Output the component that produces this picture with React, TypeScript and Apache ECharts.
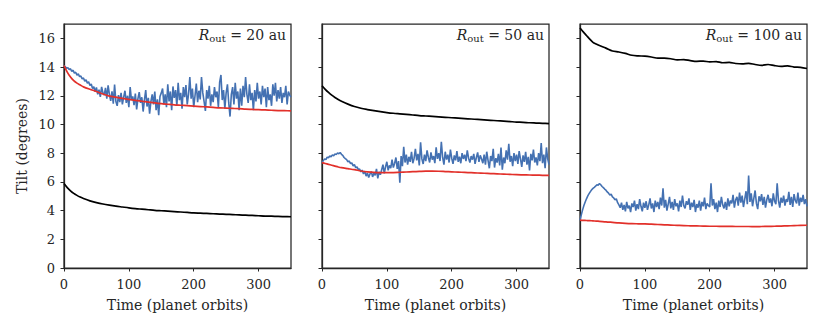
import React, { useEffect, useRef } from "react";
import * as echarts from "echarts";

// ---------- data ----------
const TIME_STEP = 2; // orbits between samples of the noisy (blue) series

const BLUE_20 = [
  14.1, 14.02, 13.92, 13.96, 13.82, 13.88, 13.7, 13.78, 13.58, 13.64, 13.44, 13.52, 13.34, 13.38, 13.18, 13.24, 13.02, 13.12, 12.88, 12.98, 12.72,
  12.82, 12.5, 12.64, 12.28, 12.58, 12.1, 12.42, 11.92, 12.62, 12.2,
  12.05, 12.55, 11.8, 12.72, 12.1, 11.65, 12.3, 11.45, 12.78, 11.6, 11.3, 12.05, 11.55, 12.2, 11.4,
  11.9, 12.35, 11.5, 12.0, 11.2, 12.6, 11.7, 11.95, 11.35, 12.15, 11.05, 11.8, 12.25, 11.5, 11.9, 10.9, 11.7, 12.4, 11.25, 11.85, 10.75, 11.6, 12.1, 11.4, 12.3, 11.0, 11.75, 10.65, 11.95, 12.2,
  12.5, 11.4, 12.1, 11.2, 12.8, 11.6, 12.3, 11.0, 12.65, 11.85,
  12.4, 11.3, 12.9, 11.7, 12.2, 11.1, 12.6, 11.9, 12.75, 11.4,
  12.1, 13.3, 11.8, 12.5, 11.2, 12.0, 12.85, 11.55, 12.35, 11.75,
  13.3, 12.2, 11.6, 10.95, 12.4, 11.8, 12.7, 11.3, 12.1, 11.55,
  12.6, 11.9, 12.3, 11.2, 12.95, 13.45, 11.7, 12.4, 11.1, 12.2,
  12.8, 11.5, 10.55, 12.1, 12.6, 11.4, 12.9, 11.8, 12.3, 11.0,
  12.5, 11.3, 12.7, 11.9, 13.3, 12.1, 11.5, 12.8, 11.7, 12.2,
  11.0, 12.4, 11.6, 12.9, 11.8, 12.3, 11.4, 12.7, 11.9, 12.5,
  11.2, 12.6, 11.7, 12.1, 11.3, 12.8, 12.0, 12.9, 11.6, 12.4,
  11.8, 12.6, 11.5, 12.2, 11.9, 12.7, 11.4, 12.3, 12.05, 11.9,
];

const BLUE_50 = [
  7.35, 7.48, 7.6, 7.55, 7.72, 7.68, 7.8, 7.75, 7.88, 7.82, 7.95, 7.9, 8.02, 7.96, 8.05, 7.92, 7.85, 7.7, 7.62, 7.55, 7.4,
  7.45, 7.28, 7.32, 7.12, 7.2, 6.98, 7.05, 6.85, 6.9, 6.7, 6.82, 6.55, 6.75, 6.4, 6.62, 6.3, 6.55, 6.72, 6.35, 6.6, 6.45, 6.9, 6.25, 6.7, 6.5,
  6.85, 7.2, 6.6, 7.05, 7.4, 6.8, 7.15, 6.95, 7.55, 7.0, 7.3, 7.7, 6.9, 7.45, 5.95, 7.8, 7.1, 8.45, 7.35, 7.9,
  7.2, 7.75, 7.4, 8.1, 7.3, 7.65, 8.3, 7.5, 7.95, 7.15,
  8.75, 7.6, 7.25, 7.9, 7.45, 8.2, 7.7, 7.35, 8.05, 7.55,
  7.8, 7.3, 8.4, 7.6, 8.0, 7.45, 8.8, 7.7, 7.2, 8.1,
  7.55, 7.9, 7.35, 8.25, 7.65, 7.25, 7.85, 7.5, 8.15, 7.4,
  7.75, 7.3, 8.0, 7.6, 7.9, 7.45, 8.2, 7.65, 7.35, 7.8,
  7.55, 7.95, 7.25, 7.7, 8.05, 7.4, 7.85, 7.6, 7.3, 7.9,
  7.2, 8.1, 7.5, 6.95, 7.8, 7.45, 8.3, 7.0, 7.65, 7.35,
  7.95, 7.15, 8.4, 6.85, 7.7, 7.3, 8.2, 7.55, 8.65, 7.4,
  7.8, 7.1, 8.0, 7.45, 7.9, 7.25, 8.15, 7.6, 7.05, 7.85,
  7.4, 8.1, 7.2, 7.75, 6.8, 7.95, 7.5, 8.25, 7.35, 7.7,
  7.15, 8.0, 7.45, 8.7, 7.3, 7.9, 6.95, 8.4, 7.6, 7.2,
];

const BLUE_100 = [
  3.33, 3.7, 4.05, 4.35, 4.6, 4.82, 5.02, 5.18, 5.32, 5.45, 5.55, 5.62, 5.7, 5.8, 5.76, 5.88,
  5.8, 5.68, 5.6, 5.5, 5.42, 5.3, 5.22, 5.08, 5.15, 4.95, 4.88, 4.75, 4.82, 4.55, 4.4,
  4.2, 4.55, 4.05, 4.4, 3.95, 4.6, 4.15, 4.35, 3.9, 4.5,
  4.25, 4.7, 4.0, 4.45, 4.1, 4.8, 4.3, 3.95, 4.55, 4.2,
  4.65, 4.05, 4.4, 4.85, 4.15, 4.5, 3.9, 4.7, 4.25, 4.6,
  4.1, 4.9, 4.35, 5.55, 4.2, 4.75, 4.0, 4.45, 4.95, 4.15,
  4.6, 4.05, 4.8, 4.3, 4.5, 3.95, 4.7, 4.25, 5.05, 4.35,
  4.15, 4.65, 4.4, 4.85, 4.05, 4.55, 4.25, 4.75, 3.9, 4.45,
  4.2, 4.7, 4.0, 4.6, 4.3, 4.9, 4.1, 4.5, 4.35, 4.25,
  5.9, 4.35, 4.8, 4.1, 4.55, 3.9, 4.7, 4.25, 4.95, 4.4,
  4.15, 4.6, 4.05, 4.85, 4.3, 4.7, 4.5, 5.1, 4.2, 4.75,
  4.95, 4.35, 5.25, 4.55, 5.05, 4.25, 4.8, 5.35, 4.45, 6.45,
  4.6, 5.2, 4.3, 4.85, 5.4, 4.5, 4.1, 5.0, 4.65, 5.15,
  4.4, 4.95, 4.2, 4.75, 5.1, 4.55, 4.85, 4.3, 5.2, 4.65,
  4.45, 5.9, 4.7, 4.2, 4.9, 4.55, 5.05, 4.35, 4.8, 4.6,
  5.3, 4.4, 4.95, 4.25, 5.15, 4.7, 4.5, 5.25, 4.35, 4.9,
  4.6, 5.1, 4.45, 4.8, 4.3,
];

const SMOOTH_X = [0, 5, 10, 15, 20, 25, 30, 40, 50, 60, 70, 80, 90, 100, 110, 120, 130, 140, 150, 160, 170, 180, 190, 200, 210, 220, 230, 240, 250, 260, 270, 280, 290, 300, 310, 320, 330, 340, 350];

const RED_20 = [14.1, 13.65, 13.3, 13.05, 12.88, 12.75, 12.62, 12.45, 12.3, 12.12, 11.98, 11.9, 11.82, 11.75, 11.68, 11.62, 11.56, 11.5, 11.45, 11.41, 11.37, 11.34, 11.31, 11.28, 11.25, 11.22, 11.19, 11.16, 11.14, 11.12, 11.1, 11.07, 11.05, 11.03, 11.01, 10.99, 10.97, 10.96, 10.95];
const BLACK_20 = [5.88, 5.6, 5.38, 5.2, 5.06, 4.94, 4.84, 4.68, 4.56, 4.46, 4.38, 4.31, 4.25, 4.19, 4.14, 4.1, 4.06, 4.02, 3.99, 3.96, 3.93, 3.9, 3.87, 3.84, 3.82, 3.8, 3.78, 3.76, 3.74, 3.72, 3.7, 3.68, 3.66, 3.64, 3.62, 3.61, 3.59, 3.58, 3.57];

const RED_50 = [7.34, 7.28, 7.22, 7.16, 7.1, 7.04, 6.99, 6.92, 6.85, 6.76, 6.7, 6.66, 6.64, 6.64, 6.65, 6.67, 6.69, 6.71, 6.73, 6.75, 6.75, 6.74, 6.72, 6.7, 6.68, 6.66, 6.64, 6.62, 6.6, 6.58, 6.56, 6.54, 6.52, 6.5, 6.49, 6.48, 6.47, 6.46, 6.45];
const BLACK_50 = [12.7, 12.45, 12.23, 12.04, 11.88, 11.74, 11.62, 11.42, 11.25, 11.13, 11.04, 10.96, 10.89, 10.83, 10.78, 10.74, 10.7, 10.66, 10.62, 10.59, 10.56, 10.53, 10.5, 10.47, 10.44, 10.41, 10.38, 10.35, 10.32, 10.29, 10.26, 10.23, 10.2, 10.17, 10.15, 10.12, 10.1, 10.08, 10.06];

const RED_100 = [3.33, 3.32, 3.31, 3.3, 3.28, 3.27, 3.25, 3.22, 3.18, 3.14, 3.11, 3.09, 3.08, 3.07, 3.05, 3.03, 3.01, 2.99, 2.97, 2.95, 2.94, 2.93, 2.92, 2.91, 2.91, 2.9, 2.9, 2.89, 2.89, 2.89, 2.88, 2.89, 2.9, 2.91, 2.92, 2.94, 2.95, 2.97, 2.98];
const BLACK_100 = [16.72, 16.45, 16.2, 15.95, 15.72, 15.6, 15.5, 15.32, 15.12, 15.05, 14.95, 14.82, 14.78, 14.76, 14.7, 14.62, 14.62, 14.58, 14.5, 14.52, 14.45, 14.4, 14.42, 14.36, 14.38, 14.3, 14.32, 14.25, 14.22, 14.26, 14.18, 14.12, 14.18, 14.1, 14.05, 14.08, 14.0, 13.98, 13.9];

const PANEL_LABELS = ["20 au", "50 au", "100 au"];
const X_TICKS = [0, 100, 200, 300];
const Y_TICKS = [0, 2, 4, 6, 8, 10, 12, 14, 16];
const X_NAME = "Time (planet orbits)";
const Y_NAME = "Tilt (degrees)";

const PANELS = [
  { blue: BLUE_20, red: RED_20, black: BLACK_20 },
  { blue: BLUE_50, red: RED_50, black: BLACK_50 },
  { blue: BLUE_100, red: RED_100, black: BLACK_100 },
];

// ---------- styling ----------
const FONT = "DejaVu Serif";
const INK = "#262626";
const BLUE = "#4471b2";
const RED = "#e2302a";
const BLACK = "#000000";
const GRID_LEFTS = [64, 322, 580];
const GRID_W = 227;
const GRID_TOP = 24;
const GRID_H = 244;
const FS = 13;
const FS_NAME = 14;

export default function App() {
  const ref = useRef<HTMLDivElement>(null);

  useEffect(() => {
    if (!ref.current) return;
    const chart = echarts.init(ref.current, undefined, { renderer: "svg" });

    const grids = GRID_LEFTS.map((left) => ({
      left,
      top: GRID_TOP,
      width: GRID_W,
      height: GRID_H,
      show: true,
      borderColor: INK,
      borderWidth: 1.25,
      backgroundColor: "transparent",
      containLabel: false,
    }));

    const xAxes = GRID_LEFTS.map((_, i) => ({
      type: "value",
      gridIndex: i,
      min: 0,
      max: 350,
      interval: 100,
      name: X_NAME,
      nameLocation: "middle",
      nameGap: 30,
      nameTextStyle: { fontFamily: FONT, fontSize: FS_NAME, color: INK },
      axisLine: { show: true, onZero: false, lineStyle: { color: INK, width: 1.25 } },
      axisTick: { show: true, inside: false, length: 3.5, customValues: X_TICKS, lineStyle: { color: INK, width: 1 } },
      axisLabel: { customValues: X_TICKS, margin: 10, fontFamily: FONT, fontSize: FS, color: INK },
      splitLine: { show: false },
    }));

    const yAxes = GRID_LEFTS.map((_, i) => ({
      type: "value",
      gridIndex: i,
      min: 0,
      max: 17,
      interval: 2,
      name: i === 0 ? Y_NAME : "",
      nameLocation: "middle",
      nameGap: 35,
      nameRotate: 90,
      nameTextStyle: { fontFamily: FONT, fontSize: FS_NAME, color: INK },
      axisLine: { show: true, onZero: false, lineStyle: { color: INK, width: 1.25 } },
      axisTick: { show: true, inside: false, length: 3.5, customValues: Y_TICKS, lineStyle: { color: INK, width: 1 } },
      axisLabel: { show: i === 0, customValues: Y_TICKS, margin: 9, fontFamily: FONT, fontSize: FS, color: INK },
      splitLine: { show: false },
    }));

    const series: any[] = [];
    PANELS.forEach((p, i) => {
      series.push({
        type: "line",
        xAxisIndex: i,
        yAxisIndex: i,
        data: p.blue.map((v, k) => [k * TIME_STEP, v]),
        showSymbol: false,
        symbol: "none",
        lineStyle: { color: BLUE, width: 1.6 },
        z: 2,
      });
      series.push({
        type: "line",
        xAxisIndex: i,
        yAxisIndex: i,
        data: SMOOTH_X.map((x, k) => [x, p.red[k]]),
        showSymbol: false,
        symbol: "none",
        smooth: 0.3,
        lineStyle: { color: RED, width: 1.7 },
        z: 3,
      });
      series.push({
        type: "line",
        xAxisIndex: i,
        yAxisIndex: i,
        data: SMOOTH_X.map((x, k) => [x, p.black[k]]),
        showSymbol: false,
        symbol: "none",
        smooth: 0.3,
        lineStyle: { color: BLACK, width: 1.7 },
        z: 4,
      });
    });

    const graphic = PANEL_LABELS.map((lab, i) => ({
      type: "text",
      right: 830 - (GRID_LEFTS[i] + GRID_W) + 5,
      top: GRID_TOP + 4,
      z: 10,
      style: {
        text: `{r|R}{s|out}{t| = ${lab}}`,
        rich: {
          r: { fontFamily: FONT, fontStyle: "italic", fontSize: 14, fill: INK, color: INK },
          s: { fontFamily: FONT, fontSize: 10, fill: INK, color: INK, padding: [6, 0, 0, 0] },
          t: { fontFamily: FONT, fontSize: 14, fill: INK, color: INK },
        },
        fill: INK,
      },
    }));

    chart.setOption({
      animation: false,
      backgroundColor: "#ffffff",
      grid: grids,
      xAxis: xAxes,
      yAxis: yAxes,
      series,
      graphic,
    });

    return () => chart.dispose();
  }, []);

  return (
    <div
      ref={ref}
      style={{ position: "absolute", left: 0, top: 0, width: 830, height: 332 }}
    />
  );
}
